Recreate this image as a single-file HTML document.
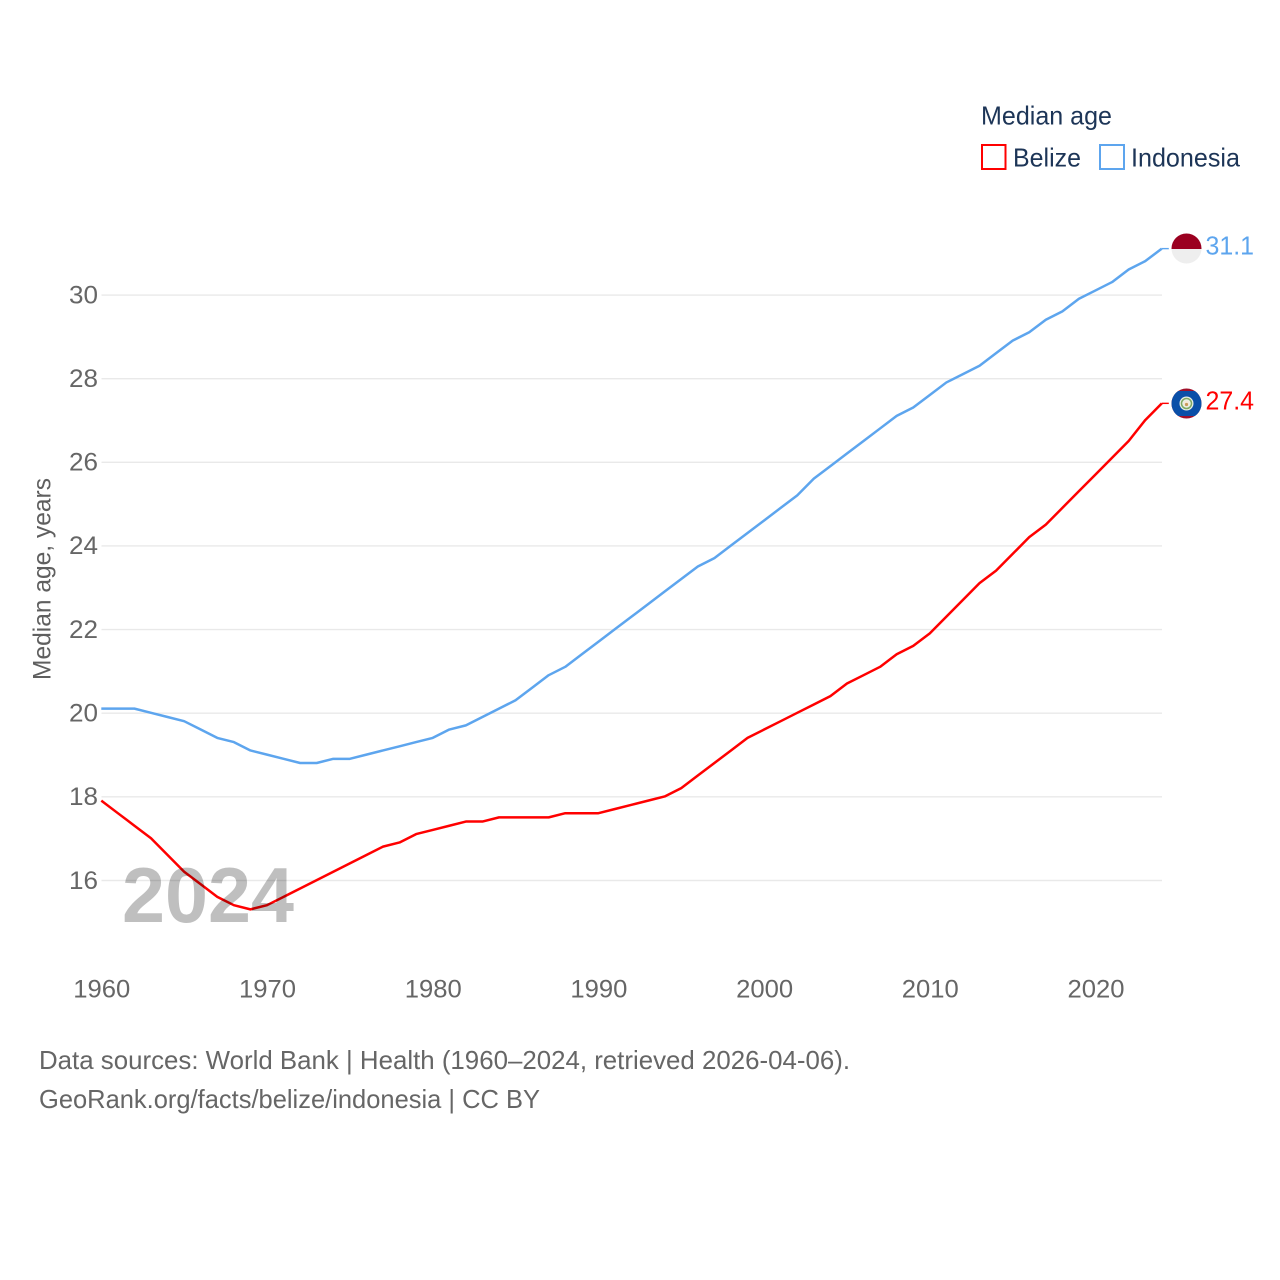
<!DOCTYPE html>
<html lang="en">
<head>
<meta charset="utf-8">
<title>Median age: Belize and Indonesia</title>
<style>
  html, body { margin: 0; padding: 0; background: #fff; }
  svg { display: block; font-family: "Liberation Sans", sans-serif; }
</style>
</head>
<body>
<svg id="chart" xmlns="http://www.w3.org/2000/svg" width="1280" height="1280" viewBox="0 0 1280 1280">
  <defs>
    <clipPath id="clip-id"><circle cx="1186.5" cy="248.5" r="15"/></clipPath>
    <clipPath id="clip-bz"><circle cx="1186.5" cy="403.5" r="15"/></clipPath>
  </defs>
  <rect x="0" y="0" width="1280" height="1280" fill="#ffffff"/>
  <g id="grid"></g>
  <g id="yticks"></g>
  <g id="xticks"></g>

  <text transform="translate(50.5,680) rotate(-90)" font-size="25" fill="#5f5f5f" textLength="202" lengthAdjust="spacingAndGlyphs">Median age, years</text>

  <text x="981" y="124.5" font-size="26" fill="#1d3557" textLength="131" lengthAdjust="spacingAndGlyphs">Median age</text>
  <rect x="982" y="145" width="23.5" height="24" fill="none" stroke="#ff0000" stroke-width="2"/>
  <text x="1013" y="166.5" font-size="26" fill="#1d3557" textLength="68" lengthAdjust="spacingAndGlyphs">Belize</text>
  <rect x="1100" y="145" width="24" height="24" fill="none" stroke="#5da5ee" stroke-width="2"/>
  <text x="1131" y="166.5" font-size="26" fill="#1d3557" textLength="109" lengthAdjust="spacingAndGlyphs">Indonesia</text>

  <g id="series"></g>

  <text x="122" y="922" font-size="78" font-weight="700" fill="#000000" fill-opacity="0.25" textLength="172" lengthAdjust="spacingAndGlyphs">2024</text>

  <g clip-path="url(#clip-id)">
    <rect x="1171" y="233" width="31" height="16" fill="#9b0020"/>
    <rect x="1171" y="249" width="31" height="16" fill="#eeeeee"/>
  </g>
  <g clip-path="url(#clip-bz)">
    <rect x="1171" y="388" width="31" height="31" fill="#a0102a"/>
    <rect x="1171" y="391" width="31" height="25" fill="#0a4fa8"/>
    <circle cx="1186.5" cy="403.5" r="7" fill="#e8efe6"/>
    <circle cx="1186.5" cy="403.5" r="5" fill="none" stroke="#7fa860" stroke-width="1.5"/>
    <circle cx="1186.5" cy="403.5" r="3" fill="#f4e8d8"/>
    <circle cx="1186.5" cy="404.5" r="1.6" fill="#c89a5a"/>
  </g>

  <text x="1205.5" y="254.5" font-size="26" fill="#5da5ee" textLength="48.5" lengthAdjust="spacingAndGlyphs">31.1</text>
  <text x="1205.5" y="409.5" font-size="26" fill="#ff0000" textLength="48.5" lengthAdjust="spacingAndGlyphs">27.4</text>

  <text x="39" y="1069" font-size="26" fill="#666666" textLength="811" lengthAdjust="spacingAndGlyphs">Data sources: World Bank | Health (1960–2024, retrieved 2026-04-06).</text>
  <text x="39" y="1108" font-size="26" fill="#666666" textLength="501" lengthAdjust="spacingAndGlyphs">GeoRank.org/facts/belize/indonesia | CC BY</text>
</svg>
<script>
const startYear = 1960;
const yTickValues = [16, 18, 20, 22, 24, 26, 28, 30];
const xTickValues = [1960, 1970, 1980, 1990, 2000, 2010, 2020];
const belizeValues = [17.9,17.6,17.3,17.0,16.6,16.2,15.9,15.6,15.4,15.3,15.4,15.6,15.8,16.0,16.2,16.4,16.6,16.8,16.9,17.1,17.2,17.3,17.4,17.4,17.5,17.5,17.5,17.5,17.6,17.6,17.6,17.7,17.8,17.9,18.0,18.2,18.5,18.8,19.1,19.4,19.6,19.8,20.0,20.2,20.4,20.7,20.9,21.1,21.4,21.6,21.9,22.3,22.7,23.1,23.4,23.8,24.2,24.5,24.9,25.3,25.7,26.1,26.5,27.0,27.4];
const indonesiaValues = [20.1,20.1,20.1,20.0,19.9,19.8,19.6,19.4,19.3,19.1,19.0,18.9,18.8,18.8,18.9,18.9,19.0,19.1,19.2,19.3,19.4,19.6,19.7,19.9,20.1,20.3,20.6,20.9,21.1,21.4,21.7,22.0,22.3,22.6,22.9,23.2,23.5,23.7,24.0,24.3,24.6,24.9,25.2,25.6,25.9,26.2,26.5,26.8,27.1,27.3,27.6,27.9,28.1,28.3,28.6,28.9,29.1,29.4,29.6,29.9,30.1,30.3,30.6,30.8,31.1];

const NS = 'http://www.w3.org/2000/svg';
function xScale(year) { return 101.3 + (year - 1960) * 16.5703; }
function yScale(v) { return 880.5 - (v - 16) * 41.82; }
const lineLift = 0.4;

const grid = document.getElementById('grid');
const yticks = document.getElementById('yticks');
yTickValues.forEach(function (v) {
  const line = document.createElementNS(NS, 'line');
  
  
  line.setAttribute('x1', 101.5);
  line.setAttribute('x2', 1162);
  line.setAttribute('y1', yScale(v));
  line.setAttribute('y2', yScale(v));
  line.setAttribute('stroke', '#e9e9e9');
  line.setAttribute('stroke-width', '1.4');
  grid.appendChild(line);
  const t = document.createElementNS(NS, 'text');
  
  
  t.setAttribute('x', 69);
  t.setAttribute('y', yScale(v) + 8.3);
  t.setAttribute('font-size', '25');
  t.setAttribute('fill', '#666666');
  t.setAttribute('textLength', '29');
  t.setAttribute('lengthAdjust', 'spacingAndGlyphs');
  t.textContent = String(v);
  yticks.appendChild(t);
});

const xticks = document.getElementById('xticks');
xTickValues.forEach(function (year) {
  const t = document.createElementNS(NS, 'text');
  
  
  t.setAttribute('x', xScale(year) - 28);
  t.setAttribute('y', 997.5);
  t.setAttribute('font-size', '25');
  t.setAttribute('fill', '#666666');
  t.setAttribute('textLength', '57');
  t.setAttribute('lengthAdjust', 'spacingAndGlyphs');
  t.textContent = String(year);
  xticks.appendChild(t);
});

function linePoints(values) {
  return values.map(function (v, i) {
    return xScale(startYear + i).toFixed(2) + ',' + (yScale(v) - lineLift).toFixed(2);
  });
}

const seriesGroup = document.getElementById('series');

const indonesiaLine = document.createElementNS(NS, 'polyline');


indonesiaLine.setAttribute('fill', 'none');
indonesiaLine.setAttribute('stroke', '#5da5ee');
indonesiaLine.setAttribute('stroke-width', '2.5');
indonesiaLine.setAttribute('stroke-linejoin', 'round');
indonesiaLine.setAttribute('points', linePoints(indonesiaValues).join(' '));
seriesGroup.appendChild(indonesiaLine);

const belizeLine = document.createElementNS(NS, 'polyline');


belizeLine.setAttribute('fill', 'none');
belizeLine.setAttribute('stroke', '#ff0000');
belizeLine.setAttribute('stroke-width', '2.5');
belizeLine.setAttribute('stroke-linejoin', 'round');
belizeLine.setAttribute('points', linePoints(belizeValues).join(' '));
seriesGroup.appendChild(belizeLine);

const indonesiaLead = document.createElementNS(NS, 'line');


indonesiaLead.setAttribute('x1', xScale(2024));
indonesiaLead.setAttribute('x2', xScale(2024) + 7);
indonesiaLead.setAttribute('y1', yScale(indonesiaValues[indonesiaValues.length - 1]) - lineLift);
indonesiaLead.setAttribute('y2', yScale(indonesiaValues[indonesiaValues.length - 1]) - lineLift);
indonesiaLead.setAttribute('stroke', '#5da5ee');
indonesiaLead.setAttribute('stroke-width', '1.4');
seriesGroup.appendChild(indonesiaLead);

const belizeLead = document.createElementNS(NS, 'line');


belizeLead.setAttribute('x1', xScale(2024));
belizeLead.setAttribute('x2', xScale(2024) + 7);
belizeLead.setAttribute('y1', yScale(belizeValues[belizeValues.length - 1]) - lineLift);
belizeLead.setAttribute('y2', yScale(belizeValues[belizeValues.length - 1]) - lineLift);
belizeLead.setAttribute('stroke', '#ff0000');
belizeLead.setAttribute('stroke-width', '1.4');
seriesGroup.appendChild(belizeLead);
</script>
</body>
</html>
